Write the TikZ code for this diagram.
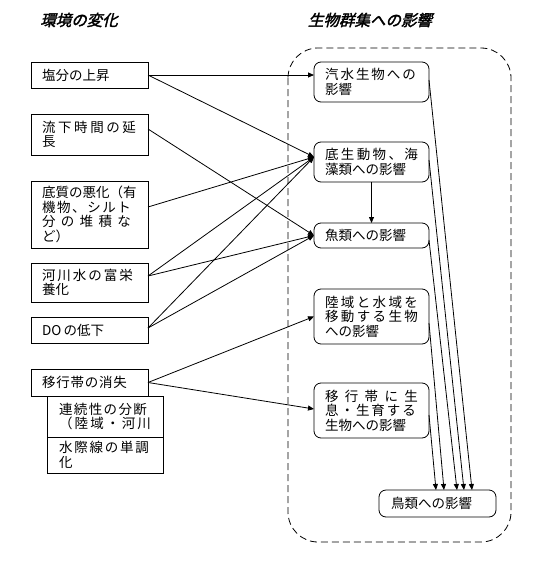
\documentclass[tikz,border=0pt]{standalone}
\usepackage{fontspec}
\newfontfamily\jpn{Noto Sans CJK JP}
\newfontfamily\jpnti[FakeSlant=0.25,FakeBold=2]{Noto Sans CJK JP}
\usetikzlibrary{arrows.meta}
\makeatletter
\def\spr#1#2{\leavevmode\hbox to #1{\spr@a#2\relax}}
\def\spr@a#1{#1\spr@b}
\def\spr@b#1{\ifx#1\relax\else\hfill#1\expandafter\spr@b\fi}
\makeatother
\newcommand\jpfont{\fontsize{13.5}{14.5}\selectfont\jpn}
\begin{document}
\begin{tikzpicture}[x=1pt,y=-1pt,line width=0.8pt,
  lbox/.style={draw,outer sep=0pt,inner xsep=11pt,inner ysep=0pt,text width=95pt,align=left,anchor=north west,font=\jpfont},
  sbox/.style={lbox,inner xsep=12pt,text width=92pt},
  rbox/.style={lbox,rounded corners=7pt,text width=93pt},
  ttl/.style={font=\fontsize{15.5}{17}\selectfont\jpnti,inner sep=0pt},
  arr/.style={-{Triangle[length=6pt,width=5pt]}},
  grp/.style={dash pattern=on 7pt off 4pt,rounded corners=30pt}]
\useasboundingbox (0,0) rectangle (548,562);
\fill[white] (0,0) rectangle (548,562);
% titles
\node[ttl] (t1) at (79,20) {環境の変化};
\node[ttl] (t2) at (370,20) {生物群集への影響};
% group frame
\draw[grp] (288,48) rectangle (511,542);
% left boxes
\node[lbox,minimum height=26pt] (b1) at (31,62) {塩分の上昇};
\node[lbox,minimum height=41pt] (b2) at (31,114) {\spr{94pt}{流下時間の延}\\長};
\node[lbox,minimum height=67pt] (b3) at (31,181) {\spr{94pt}{底質の悪化（有}\\\spr{89pt}{機物、シルト}\\\spr{89pt}{分の堆積な}\\ど）};
\node[lbox,minimum height=39pt] (b4) at (31,263) {\spr{91pt}{河川水の富栄}\\養化};
\node[lbox,minimum height=26pt] (b5) at (31,317) {DO\,の低下};
\node[lbox,minimum height=27pt] (b6) at (31,369) {\spr{85pt}{移行帯の消失}};
\node[sbox,minimum height=41pt] (b7) at (47,396) {\spr{88pt}{連続性の分断}\\\spr{92pt}{（陸域・河川}};
\node[sbox,minimum height=36pt] (b8) at (47,437) {\spr{90pt}{水際線の単調}\\化};
% right nodes
\node[rbox,minimum height=40pt] (n1) at (314,62) {\spr{91pt}{汽水生物への}\\影響};
\node[rbox,minimum height=40pt] (n2) at (314,142) {\spr{93pt}{底生動物、海}\\藻類への影響};
\node[rbox,minimum height=25pt] (n3) at (314,223) {魚類への影響};
\node[rbox,minimum height=55pt] (n4) at (314,289) {\spr{93pt}{陸域と水域を}\\\spr{93pt}{移動する生物}\\への影響};
\node[rbox,minimum height=55pt] (n5) at (314,383) {\spr{93pt}{移行帯に生}\\\spr{91pt}{息・生育する}\\生物への影響};
\node[rbox,minimum height=27pt,inner xsep=12pt] (n6) at (379,490) {鳥類への影響};
% connectors
\draw[arr] (b1.east) -- (b1.east -| n1.west);
\draw[arr] (b1.east) -- ([yshift=5pt]n2.west);
\draw[arr] ([yshift=5.5pt]b2.east) -- (n3.west);
\draw[arr] ([yshift=7.5pt]b3.east) -- ([yshift=5pt]n2.west);
\draw[arr] ([yshift=6.5pt]b4.east) -- ([yshift=5pt]n2.west);
\draw[arr] ([yshift=6.5pt]b4.east) -- (n3.west);
\draw[arr] ([yshift=2pt]b5.east) -- ([yshift=5pt]n2.west);
\draw[arr] ([yshift=2pt]b5.east) -- (n3.west);
\draw[arr] (b6.east) -- (n4.west);
\draw[arr] (b6.east) -- ([yshift=1.5pt]n5.west);
\draw[arr] (n2.south) -- (n3.north);
\draw[arr] ([yshift=2pt]n1.east) -- ([xshift=34.5pt]n6.north);
\draw[arr] ([yshift=2pt]n2.east) -- ([xshift=26.5pt]n6.north);
\draw[arr] ([yshift=-4.5pt]n3.east) -- ([xshift=19.5pt]n6.north);
\draw[arr] ([yshift=-6.5pt]n4.east) -- ([xshift=6.5pt]n6.north);
\draw[arr] ([yshift=-4.5pt]n5.east) -- ([xshift=-1.5pt]n6.north);
\end{tikzpicture}
\end{document}
